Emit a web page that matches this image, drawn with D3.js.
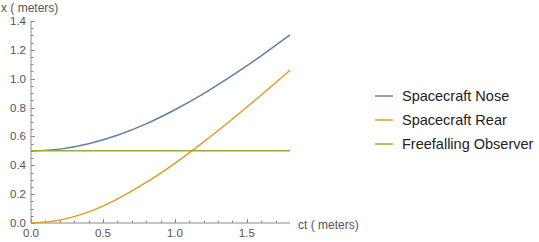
<!DOCTYPE html>
<html>
<head>
<meta charset="utf-8">
<script src="https://cdn.jsdelivr.net/npm/d3@7"></script>
<style>
body { margin: 0; background: #fff; }
text { font-family: "Liberation Sans", Arial, sans-serif; }
</style>
</head>
<body>
<svg width="539" height="242"></svg>
<script>
// values
var ct = [0, 0.2, 0.4, 0.6, 0.8, 1.0, 1.2, 1.4, 1.6, 1.8];
var nose = [0.5, 0.512, 0.549, 0.608, 0.687, 0.785, 0.897, 1.023, 1.159, 1.304];
var rear = [0, 0.020, 0.077, 0.166, 0.281, 0.414, 0.562, 0.721, 0.887, 1.059];
var observer = [0.5, 0.5, 0.5, 0.5, 0.5, 0.5, 0.5, 0.5, 0.5, 0.5];
var seriesNames = ["Spacecraft Nose", "Spacecraft Rear", "Freefalling Observer"];
var xTicks = [0, 0.5, 1.0, 1.5];
var yTicks = [0, 0.2, 0.4, 0.6, 0.8, 1.0, 1.2, 1.4];

var colors = ["#5f80ad", "#e09c28", "#8fb032"];
var svg = d3.select("svg");

var x = d3.scaleLinear().domain([0, 1.8]).range([31, 290]);
var y = d3.scaleLinear().domain([0, 1.4]).range([223, 21]);

var axisColor = "#8a8a8a", labelColor = "#555";

// x axis
var gx = svg.append("g");
gx.append("line")
	.attr("x1", x(0)).attr("x2", x(1.8))
	.attr("y1", y(0)).attr("y2", y(0))
	.attr("stroke", axisColor);
d3.range(0, 18).forEach(function(i){
	var v = i / 10;
	var major = i % 5 == 0;
	gx.append("line")
		.attr("x1", Math.round(x(v)) + 0.5).attr("x2", Math.round(x(v)) + 0.5)
		.attr("y1", y(0)).attr("y2", y(0) - (major ? 4 : 2.5))
		.attr("stroke", axisColor);
});
gx.selectAll(".xl").data(xTicks).enter().append("text")
	.attr("x", function(d){ return x(d); })
	.attr("y", 237)
	.attr("text-anchor", "middle")
	.attr("fill", labelColor)
	.style("font-size", "11.5px")
	.text(function(d){ return d3.format(".1f")(d); });

// y axis
var gy = svg.append("g");
gy.append("line")
	.attr("x1", x(0)).attr("x2", x(0))
	.attr("y1", y(0)).attr("y2", y(1.4))
	.attr("stroke", axisColor);
d3.range(0, 29).forEach(function(i){
	var v = i * 0.05;
	var major = i % 4 == 0;
	gy.append("line")
		.attr("x1", x(0)).attr("x2", x(0) + (major ? 4 : 2.5))
		.attr("y1", Math.round(y(v)) + 0.5).attr("y2", Math.round(y(v)) + 0.5)
		.attr("stroke", axisColor);
});
gy.selectAll(".yl").data(yTicks).enter().append("text")
	.attr("x", 26)
	.attr("y", function(d){ return y(d) + 4; })
	.attr("text-anchor", "end")
	.attr("fill", labelColor)
	.style("font-size", "11.5px")
	.text(function(d){ return d3.format(".1f")(d); });

// axis labels
svg.append("text").attr("x", 1).attr("y", 12)
	.attr("fill", labelColor).style("font-size", "12px")
	.text("x ( meters)");
svg.append("text").attr("x", 298).attr("y", 229)
	.attr("fill", labelColor).style("font-size", "12px")
	.text("ct ( meters)");

// curves
var line = d3.line()
	.x(function(d){ return x(d[0]); })
	.y(function(d){ return y(d[1]); })
	.curve(d3.curveMonotoneX);

[nose, rear, observer].forEach(function(vals, i){
	svg.append("path")
		.datum(ct.map(function(t, j){ return [t, vals[j]]; }))
		.attr("d", line)
		.attr("fill", "none")
		.attr("stroke", colors[i])
		.attr("stroke-width", 1.5);
});

// legend
var lg = svg.selectAll(".leg").data(seriesNames).enter().append("g")
	.attr("transform", function(d, i){ return "translate(375," + (96 + i * 24) + ")"; });
lg.append("line")
	.attr("x1", 0).attr("x2", 18)
	.attr("stroke", function(d, i){ return colors[i]; })
	.attr("stroke-width", 1.5);
lg.append("text")
	.attr("x", 27).attr("y", 5)
	.attr("fill", "#222")
	.style("font-size", "14.5px")
	.text(function(d){ return d; });
</script>
</body>
</html>
